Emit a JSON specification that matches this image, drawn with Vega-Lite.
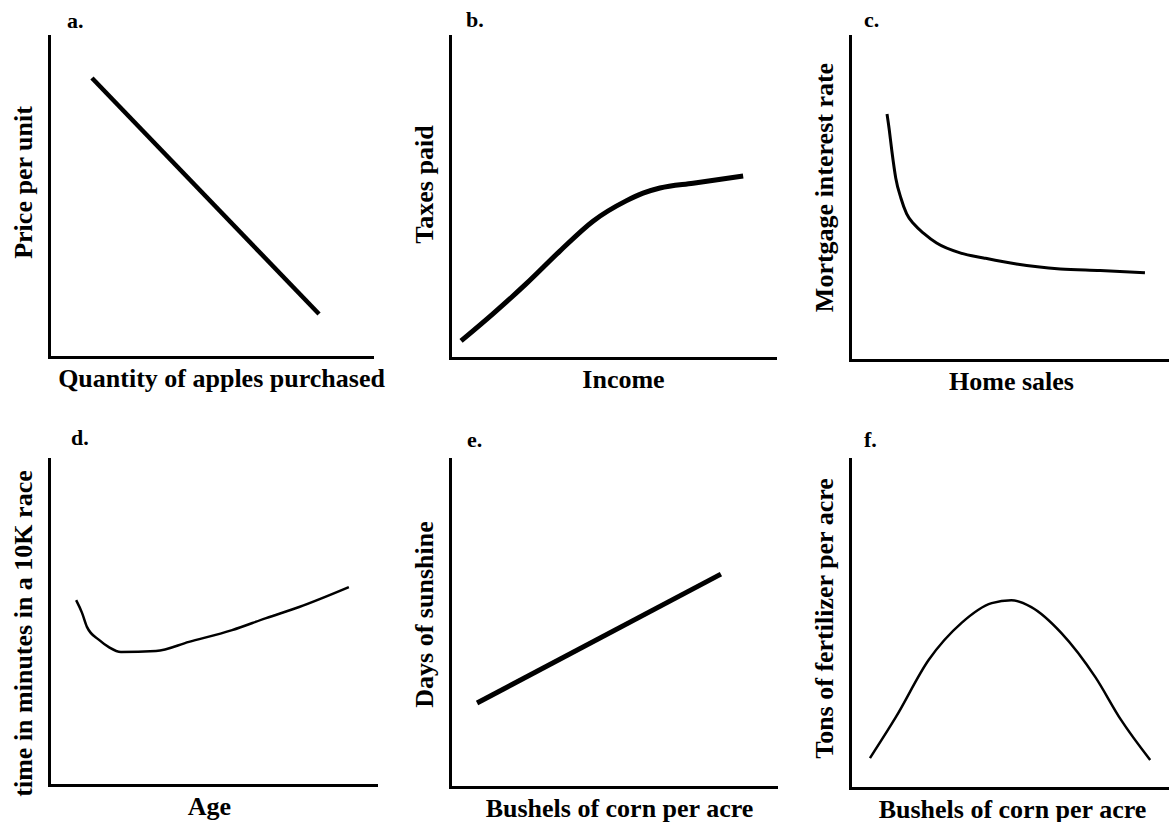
{
  "$schema": "https://vega.github.io/schema/vega-lite/v6.json",
  "background": "white",
  "padding": {"left": 10, "top": 9, "right": 0, "bottom": 0},
  "columns": 3,
  "align": {"row": "all", "column": "none"},
  "bounds": "flush",
  "spacing": {"row": 94, "column": 74},
  "config": {
    "view": {"stroke": null},
    "axis": {"labels": false, "ticks": false, "grid": false, "domainColor": "black", "domainWidth": 3, "domainCap": "square", "titleFont": "Liberation Serif", "titleFontSize": 26, "titleFontWeight": "bold", "titleColor": "black"},
    "axisX": {"titlePadding": 8},
    "axisY": {"titlePadding": 13},
    "title": {"font": "Liberation Serif", "fontSize": 22, "fontWeight": "bold", "anchor": "start", "frame": "group", "baseline": "alphabetic", "color": "black"},
    "line": {"color": "black"}
  },
  "concat": [
    {
      "width": 323, "height": 321,
      "title": {"text": "a.", "dx": 18, "offset": 3},
      "data": {"values": [{"x": 1.33, "y": 8.69}, {"x": 8.36, "y": 1.34}]},
      "mark": {"type": "line", "strokeWidth": 4.5},
      "encoding": {
        "x": {"field": "x", "type": "quantitative", "scale": {"domain": [0, 10], "nice": false, "zero": false}, "axis": {"title": "Quantity of apples purchased", "titleX": 172}},
        "y": {"field": "y", "type": "quantitative", "scale": {"domain": [0, 10], "nice": false, "zero": false}, "axis": {"title": "Price per unit", "titleY": 146}}
      }
    },
    {
      "width": 325, "height": 322,
      "title": {"text": "b.", "dx": 16, "offset": 4},
      "data": {"values": [
        {"x": 0.34, "y": 0.53}, {"x": 1.32, "y": 1.37}, {"x": 2.34, "y": 2.30}, {"x": 3.38, "y": 3.32},
        {"x": 4.40, "y": 4.25}, {"x": 5.42, "y": 4.88}, {"x": 5.94, "y": 5.12}, {"x": 6.46, "y": 5.28},
        {"x": 7.48, "y": 5.43}, {"x": 9.02, "y": 5.65}
      ]},
      "mark": {"type": "line", "strokeWidth": 5, "interpolate": "monotone"},
      "encoding": {
        "x": {"field": "x", "type": "quantitative", "scale": {"domain": [0, 10], "nice": false, "zero": false}, "axis": {"title": "Income", "titleX": 173}},
        "y": {"field": "y", "type": "quantitative", "scale": {"domain": [0, 10], "nice": false, "zero": false}, "axis": {"title": "Taxes paid", "titleY": 148}}
      }
    },
    {
      "width": 322, "height": 324,
      "title": {"text": "c.", "dx": 14, "offset": 4},
      "data": {"values": [
        {"x": 1.15, "y": 7.59}, {"x": 1.22, "y": 7.10}, {"x": 1.30, "y": 6.45}, {"x": 1.42, "y": 5.62}, {"x": 1.58, "y": 5.00},
        {"x": 1.76, "y": 4.51}, {"x": 2.00, "y": 4.18}, {"x": 2.30, "y": 3.90}, {"x": 2.69, "y": 3.61}, {"x": 3.44, "y": 3.30},
        {"x": 4.15, "y": 3.15}, {"x": 5.17, "y": 2.96}, {"x": 6.53, "y": 2.81}, {"x": 7.77, "y": 2.76},
        {"x": 9.16, "y": 2.69}
      ]},
      "mark": {"type": "line", "strokeWidth": 3, "interpolate": "monotone"},
      "encoding": {
        "x": {"field": "x", "type": "quantitative", "scale": {"domain": [0, 10], "nice": false, "zero": false}, "axis": {"title": "Home sales", "titleX": 161}},
        "y": {"field": "y", "type": "quantitative", "scale": {"domain": [0, 10], "nice": false, "zero": false}, "axis": {"title": "Mortgage interest rate", "titleY": 151}}
      }
    },
    {
      "width": 327, "height": 326,
      "title": {"text": "d.", "dx": 22, "offset": 9},
      "data": {"values": [
        {"x": 0.83, "y": 5.67}, {"x": 1.01, "y": 5.28}, {"x": 1.16, "y": 4.85}, {"x": 1.53, "y": 4.45},
        {"x": 1.83, "y": 4.23}, {"x": 2.20, "y": 4.08}, {"x": 3.27, "y": 4.11}, {"x": 4.28, "y": 4.39},
        {"x": 5.60, "y": 4.75}, {"x": 6.64, "y": 5.12}, {"x": 7.65, "y": 5.46}, {"x": 9.17, "y": 6.07}
      ]},
      "mark": {"type": "line", "strokeWidth": 2.5, "interpolate": "monotone"},
      "encoding": {
        "x": {"field": "x", "type": "quantitative", "scale": {"domain": [0, 10], "nice": false, "zero": false}, "axis": {"title": "Age", "titleX": 160}},
        "y": {"field": "y", "type": "quantitative", "scale": {"domain": [0, 10], "nice": false, "zero": false}, "axis": {"title": "time in minutes in a 10K race", "titleY": 174}}
      }
    },
    {
      "width": 326, "height": 328,
      "title": {"text": "e.", "dx": 17, "offset": 7},
      "data": {"values": [{"x": 0.83, "y": 2.56}, {"x": 8.31, "y": 6.49}]},
      "mark": {"type": "line", "strokeWidth": 5},
      "encoding": {
        "x": {"field": "x", "type": "quantitative", "scale": {"domain": [0, 10], "nice": false, "zero": false}, "axis": {"title": "Bushels of corn per acre", "titleX": 169}},
        "y": {"field": "y", "type": "quantitative", "scale": {"domain": [0, 10], "nice": false, "zero": false}, "axis": {"title": "Days of sunshine", "titleY": 155}}
      }
    },
    {
      "width": 317, "height": 329,
      "title": {"text": "f.", "dx": 14, "offset": 7},
      "data": {"values": [
        {"x": 0.63, "y": 0.91}, {"x": 1.45, "y": 2.16}, {"x": 2.48, "y": 3.89}, {"x": 3.52, "y": 5.02},
        {"x": 4.47, "y": 5.62}, {"x": 5.09, "y": 5.71}, {"x": 5.72, "y": 5.50}, {"x": 6.67, "y": 4.71},
        {"x": 7.74, "y": 3.37}, {"x": 8.55, "y": 2.07}, {"x": 9.47, "y": 0.85}
      ]},
      "mark": {"type": "line", "strokeWidth": 2.5, "interpolate": "monotone"},
      "encoding": {
        "x": {"field": "x", "type": "quantitative", "scale": {"domain": [0, 10], "nice": false, "zero": false}, "axis": {"title": "Bushels of corn per acre", "titleX": 162}},
        "y": {"field": "y", "type": "quantitative", "scale": {"domain": [0, 10], "nice": false, "zero": false}, "axis": {"title": "Tons of fertilizer per acre", "titleY": 159}}
      }
    }
  ]
}
